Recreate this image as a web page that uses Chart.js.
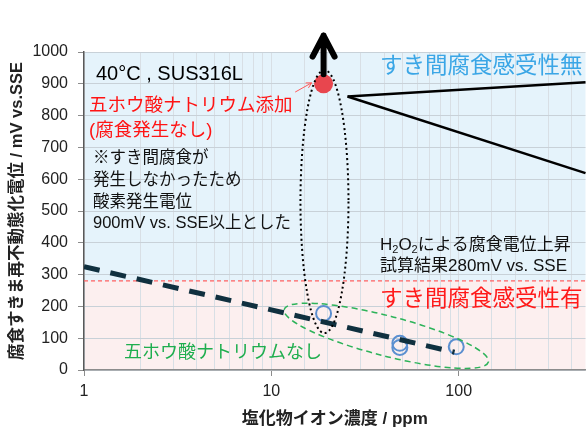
<!DOCTYPE html>
<html>
<head>
<meta charset="utf-8">
<script src="https://cdn.jsdelivr.net/npm/chart.js@4.4.1/dist/chart.umd.min.js"></script>
<style>
  html, body { margin: 0; padding: 0; background: #fff; overflow: hidden; }
  #wrap { width: 586px; height: 430px; overflow: hidden; }
</style>
</head>
<body>
<div id="wrap"><canvas id="chart" width="595" height="430"></canvas></div>
<script>
// chloride concentration (ppm) vs crevice repassivation potential (mV vs. SSE)
const xTicks = [1, 10, 100];
const xRange = [1, 475];
const yRange = [0, 1000];
const yStep = 100;

// without sodium pentaborate (open blue circles)
const plainX = [19, 48.5, 48.5, 97];
const plainY = [178, 84, 71, 73];
// with sodium pentaborate (no corrosion, plotted at O2 evolution potential)
const borateX = [19];
const borateY = [900];
// trend line
const trendX = [1, 95];
const trendY = [325, 56];
// H2O2 estimated corrosion potential
const limitY = 280;

// annotation shapes, in data units
const dottedOval = { xMin: 14.3, xMax: 25.8, yMin: 116, yMax: 943 };
const greenOval = { from: [11.7, 190], to: [144, 25], half: 20 };
const upArrow = { x: 19, from: 930, to: 1058 };
const calloutFrom = [25.5, 860];
const calloutTo = [[475, 905], [475, 619]];
const smallArrow = { from: [13.4, 874], to: [16.4, 903] };

const JP = '"Liberation Sans", "Noto Sans CJK JP", sans-serif';

const pts = (xs, ys) => xs.map((x, i) => ({ x: x, y: ys[i] }));

const notes = [
  { t: '40°C , SUS316L', x: 96, y: 74, s: 20, c: '#000' },
  { t: '五ホウ酸ナトリウム添加', x: 89, y: 106, s: 18.5, c: '#ff1414' },
  { t: '(腐食発生なし)', x: 89, y: 131, s: 18.5, c: '#ff1414' },
  { t: '※すき間腐食が', x: 93, y: 158, s: 16.5, c: '#111' },
  { t: '発生しなかったため', x: 93, y: 180, s: 16.5, c: '#111' },
  { t: '酸素発生電位', x: 93, y: 202, s: 16.5, c: '#111' },
  { t: '900mV vs. SSE以上とした', x: 93, y: 223, s: 16.5, c: '#111' },
  { t: 'すき間腐食感受性無', x: 380, y: 67, s: 22.5, c: '#3aa6e6' },
  { t: '試算結果280mV vs. SSE', x: 380, y: 266, s: 17, c: '#111' },
  { t: 'すき間腐食感受性有', x: 380, y: 300, s: 22.5, c: '#ff1a1a' },
  { t: '五ホウ酸ナトリウムなし', x: 124, y: 353, s: 18, c: '#1fae4f' }
];

const decor = {
  id: 'decor',
  beforeDraw(chart) {
    const { ctx, chartArea: a, scales: { y } } = chart;
    const yl = y.getPixelForValue(limitY);
    ctx.save();
    ctx.fillStyle = '#e5f3fb';
    ctx.fillRect(a.left, a.top, a.right - a.left, yl - a.top);
    ctx.fillStyle = '#fcefef';
    ctx.fillRect(a.left, yl, a.right - a.left, a.bottom - yl);
    ctx.restore();
  },
  afterDatasetsDraw(chart) {
    const { ctx, scales: { x, y } } = chart;
    const px = v => x.getPixelForValue(v);
    const py = v => y.getPixelForValue(v);
    ctx.save();

    // dotted oval around borate point
    const l = px(dottedOval.xMin), r = px(dottedOval.xMax);
    const t = py(dottedOval.yMax), b = py(dottedOval.yMin);
    ctx.beginPath();
    ctx.ellipse((l + r) / 2, (t + b) / 2, (r - l) / 2, (b - t) / 2, 0, 0, Math.PI * 2);
    ctx.setLineDash([2, 3]);
    ctx.lineWidth = 2;
    ctx.strokeStyle = '#000';
    ctx.stroke();

    // green dashed oval around no-borate points
    const x1 = px(greenOval.from[0]), y1 = py(greenOval.from[1]);
    const x2 = px(greenOval.to[0]), y2 = py(greenOval.to[1]);
    ctx.beginPath();
    ctx.ellipse((x1 + x2) / 2, (y1 + y2) / 2, Math.hypot(x2 - x1, y2 - y1) / 2, greenOval.half,
      Math.atan2(y2 - y1, x2 - x1), 0, Math.PI * 2);
    ctx.setLineDash([6, 4]);
    ctx.lineWidth = 1.5;
    ctx.strokeStyle = '#2db35a';
    ctx.stroke();
    ctx.setLineDash([]);

    // callout lines
    ctx.strokeStyle = '#000';
    ctx.lineWidth = 2.5;
    calloutTo.forEach(p => {
      ctx.beginPath();
      ctx.moveTo(px(calloutFrom[0]), py(calloutFrom[1]));
      ctx.lineTo(px(p[0]), py(p[1]));
      ctx.stroke();
    });

    // thick up arrow
    const ax = px(upArrow.x), ay = py(upArrow.to);
    ctx.lineWidth = 6;
    ctx.lineCap = 'round';
    ctx.lineJoin = 'round';
    ctx.beginPath();
    ctx.moveTo(ax, py(upArrow.from));
    ctx.lineTo(ax, ay + 2);
    ctx.moveTo(ax - 11, ay + 23);
    ctx.lineTo(ax, ay + 2);
    ctx.lineTo(ax + 11, ay + 23);
    ctx.stroke();

    // thin red pointer
    const sx = px(smallArrow.from[0]), sy = py(smallArrow.from[1]);
    const ex = px(smallArrow.to[0]), ey = py(smallArrow.to[1]);
    const ang = Math.atan2(ey - sy, ex - sx);
    ctx.lineWidth = 1;
    ctx.lineCap = 'butt';
    ctx.strokeStyle = '#ff5a5a';
    ctx.beginPath();
    ctx.moveTo(sx, sy);
    ctx.lineTo(ex, ey);
    ctx.moveTo(ex - 6 * Math.cos(ang - 0.5), ey - 6 * Math.sin(ang - 0.5));
    ctx.lineTo(ex, ey);
    ctx.lineTo(ex - 6 * Math.cos(ang + 0.5), ey - 6 * Math.sin(ang + 0.5));
    ctx.stroke();

    // texts
    ctx.textBaseline = 'middle';
    ctx.textAlign = 'left';
    notes.forEach(n => {
      ctx.font = n.s + 'px ' + JP;
      ctx.fillStyle = n.c;
      ctx.fillText(n.t, n.x, n.y);
    });

    // H2O2 line with subscripts
    let cx = 380;
    const cy = 245;
    ctx.fillStyle = '#111';
    [['H', 17, 0], ['2', 11, 5], ['O', 17, 0], ['2', 11, 5], ['による腐食電位上昇', 17, 0]].forEach(p => {
      ctx.font = p[1] + 'px ' + JP;
      ctx.fillText(p[0], cx, cy + p[2]);
      cx += ctx.measureText(p[0]).width;
    });
    ctx.restore();
  }
};

new Chart(document.getElementById('chart'), {
  type: 'scatter',
  data: {
    datasets: [
      {
        data: pts(trendX, trendY),
        showLine: true,
        borderColor: '#10303f',
        borderWidth: 5,
        borderDash: [16, 11],
        pointRadius: 0,
        order: 0
      },
      {
        data: pts(xRange, [limitY, limitY]),
        showLine: true,
        borderColor: '#ff6161',
        borderWidth: 1.3,
        borderDash: [4, 3],
        pointRadius: 0,
        order: 3
      },
      {
        data: pts(plainX, plainY),
        pointRadius: 7.5,
        pointBorderWidth: 2,
        pointBorderColor: '#5b8fd0',
        pointBackgroundColor: 'rgba(0,0,0,0)',
        order: 1
      },
      {
        data: pts(borateX, borateY),
        pointRadius: 9.5,
        pointBorderWidth: 0,
        pointBackgroundColor: '#e8464e',
        order: 1
      }
    ]
  },
  options: {
    responsive: false,
    animation: false,
    devicePixelRatio: 1,
    layout: { padding: { top: 52, left: 0, right: 0, bottom: 0 } },
    plugins: { legend: { display: false }, tooltip: { enabled: false } },
    scales: {
      x: {
        type: 'logarithmic',
        min: xRange[0],
        max: xRange[1],
        afterFit: s => { s.height = 60; },
        grid: {
          color: c => (c.tick && c.tick.value === xRange[1]) ? 'rgba(0,0,0,0)' : '#d8dfe5',
          tickColor: c => (c.tick && xTicks.includes(c.tick.value)) ? '#8c8c8c' : 'rgba(0,0,0,0)',
          tickLength: 6
        },
        border: { color: '#8c8c8c', width: 1.5 },
        ticks: {
          autoSkip: false,
          maxRotation: 0,
          padding: 6,
          color: '#222',
          font: { size: 16, family: JP },
          callback: v => xTicks.includes(v) ? String(v) : ''
        },
        title: {
          display: true,
          text: '塩化物イオン濃度 / ppm',
          color: '#222',
          font: { size: 17, weight: 'bold', family: JP },
          padding: { top: 0, bottom: 0 }
        }
      },
      y: {
        min: yRange[0],
        max: yRange[1],
        afterFit: s => { s.width = 84; },
        grid: { color: '#c8d1d8', tickColor: '#8c8c8c', tickLength: 6 },
        border: { color: '#595959', width: 1.5 },
        ticks: {
          stepSize: yStep,
          padding: 10,
          color: '#222',
          font: { size: 16, family: JP },
          callback: v => String(v)
        },
        title: {
          display: true,
          text: '腐食すきま再不動態化電位 / mV vs.SSE',
          color: '#222',
          font: { size: 16.5, weight: 'bold', family: JP },
          padding: { top: 8, bottom: 0 }
        }
      }
    }
  },
  plugins: [decor]
});
</script>
</body>
</html>
